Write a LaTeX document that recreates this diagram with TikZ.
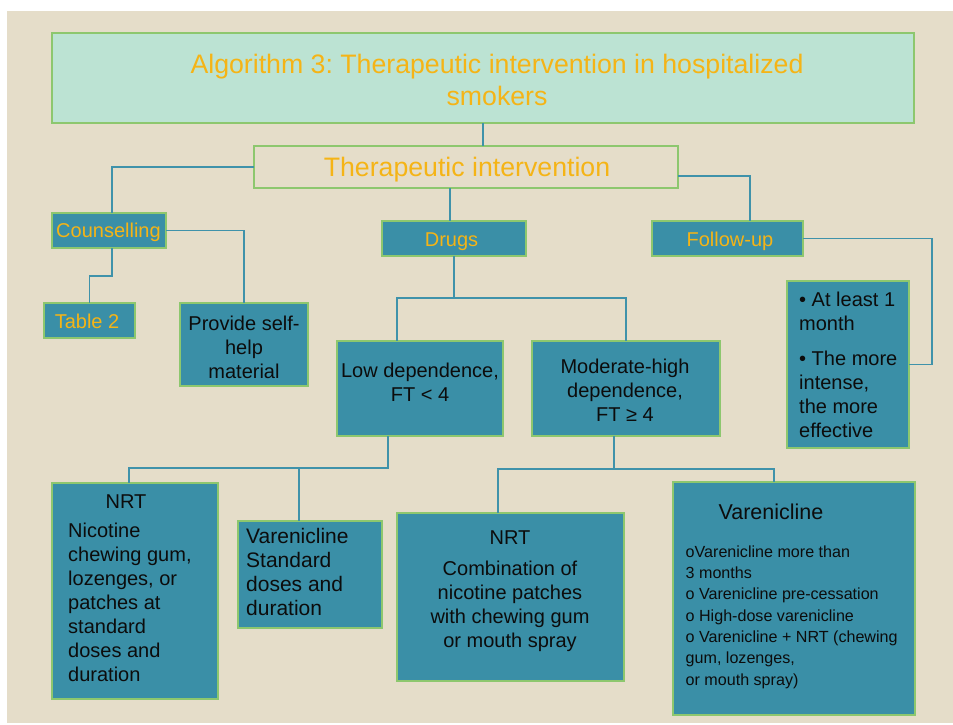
\documentclass[tikz,border=0pt]{standalone}
\usepackage{fontspec}
\setmainfont{Liberation Sans}
\definecolor{bgc}{HTML}{E5DDC9}
\definecolor{titlefill}{HTML}{BCE3D3}
\definecolor{edgec}{HTML}{8DC76E}
\definecolor{tealc}{HTML}{3A8FA7}
\definecolor{linec}{HTML}{3F92AA}
\definecolor{orangec}{RGB}{245,180,22}
\definecolor{inkc}{HTML}{0C0C0C}
\tikzset{
  box/.style={draw=edgec, line width=1.2pt, fill=tealc, inner sep=0pt, outer sep=0pt},
  conn/.style={draw=linec, line width=1.4pt},
  otxt/.style={text=orangec, inner sep=0pt, font=\fontsize{20}{24}\selectfont},
  btxt/.style={text=inkc, inner sep=0pt, font=\fontsize{20}{24}\selectfont},
  vtxt/.style={text=inkc, inner sep=0pt, font=\fontsize{21}{24}\selectfont},
  bigtxt/.style={text=orangec, inner sep=0pt, font=\fontsize{26.7}{32}\selectfont},
}
\begin{document}
\frenchspacing
\begin{tikzpicture}[x=1pt,y=-1pt]
\useasboundingbox (0,0) rectangle (953,725);
\fill[white] (0,0) rectangle (953,725);
\fill[bgc] (7,11) rectangle (953,723);

% boxes
\node[box, fill=titlefill, minimum width=862pt, minimum height=90pt] (title) at (483,78) {};
\node[box, fill=bgc, minimum width=424pt, minimum height=42pt] (ther) at (466,167) {};
\node[box, minimum width=114pt, minimum height=35pt] (couns) at (109,230.5) {};
\node[box, minimum width=91pt, minimum height=35pt] (table2) at (89.5,320.5) {};
\node[box, minimum width=128pt, minimum height=83pt] (provide) at (244,344.5) {};
\node[box, minimum width=144pt, minimum height=35pt] (drugs) at (454,238.5) {};
\node[box, minimum width=151pt, minimum height=35pt] (follow) at (727.5,238.5) {};
\node[box, minimum width=122pt, minimum height=167pt] (bullets) at (848,364.5) {};
\node[box, minimum width=166pt, minimum height=95pt] (low) at (420,388.5) {};
\node[box, minimum width=188pt, minimum height=95pt] (mod) at (626,388.5) {};
\node[box, minimum width=166pt, minimum height=216pt] (nrt1) at (135,591) {};
\node[box, minimum width=144pt, minimum height=107pt] (var1) at (310,574.5) {};
\node[box, minimum width=227pt, minimum height=168pt] (nrt2) at (510.5,597) {};
\node[box, minimum width=242pt, minimum height=233pt] (var2) at (794,598.5) {};

% connectors
\draw[conn] (title.south) -- (title.south |- ther.north);
\draw[conn] (ther.west) -| ([xshift=3pt]couns.north);
\draw[conn] ([xshift=-4pt]drugs.north |- ther.south) -- ([xshift=-4pt]drugs.north);
\draw[conn] ([yshift=-9pt]ther.east) -| ([xshift=22.5pt]follow.north);
\draw[conn] ([xshift=3pt]couns.south) -- ++(0,28) -| (table2.north);
\draw[conn] (couns.east) -| (provide.north);
\draw[conn] (follow.east) -- ++(129,0) |- (bullets.east);
\draw[conn] (drugs.south) -- ++(0,42) -| ([xshift=-23pt]low.north);
\draw[conn] (drugs.south) ++(0,42) -| (mod.north);
\draw[conn] ([xshift=-32pt]low.south) -- ++(0,32) -| ([xshift=-6pt]nrt1.north);
\draw[conn] ([xshift=-32pt]low.south) ++(0,32) -| ([xshift=-11pt]var1.north);
\draw[conn] ([xshift=-12pt]mod.south) -- ++(0,33) -| ([xshift=-12.5pt]nrt2.north);
\draw[conn] ([xshift=-12pt]mod.south) ++(0,33) -| ([xshift=-20pt]var2.north);

% texts
\node[bigtxt, anchor=base] (titleA) at (497,74) {Algorithm 3: Therapeutic intervention in hospitalized};
\node[bigtxt, anchor=base] (titleB) at (497,106) {smokers};
\node[bigtxt, anchor=base] (therT) at (467,176) {Therapeutic intervention};
\node[otxt, anchor=base] (counsT) at (108.5,237) {Counselling};
\node[otxt, anchor=base] (table2T) at (87,328) {Table 2};
\node[otxt, anchor=base] (drugsT) at (451.5,246) {Drugs};
\node[otxt, anchor=base] (followT) at (730,246) {Follow-up};
\node[btxt, align=center, anchor=north] (provideT) at (244,313.2) {\strut Provide self-\\help\\material};
\node[btxt, align=left, anchor=north west] (bulletsT) at (799,289.2) {\strut • At least 1\\month\\[11pt]• The more\\intense,\\the more\\effective};
\node[btxt, align=center, anchor=north] (lowT) at (420,360.2) {\strut Low dependence,\\FT < 4};
\node[btxt, align=center, anchor=north] (modT) at (625,356.2) {\strut Moderate-high\\dependence,\\FT ≥ 4};
\node[btxt, anchor=base] (nrt1H) at (126,508) {NRT};
\node[btxt, align=left, anchor=north west] (nrt1T) at (68,520.2) {\strut Nicotine\\chewing gum,\\lozenges, or\\patches at\\standard\\doses and\\duration};
\node[vtxt, align=left, anchor=north west] (var1T) at (246,526.2) {\strut Varenicline\\Standard\\doses and\\duration};
\node[btxt, anchor=base] (nrt2H) at (510,544) {NRT};
\node[btxt, align=center, anchor=north] (nrt2T) at (510,558.2) {\strut Combination of\\nicotine patches\\with chewing gum\\or mouth spray};
\node[vtxt, font=\fontsize{21.5}{24}\selectfont, anchor=base] (var2H) at (771,519) {Varenicline};
\node[text=inkc, inner sep=0pt, font=\fontsize{16.1}{21.3}\selectfont, align=left, anchor=north west] (var2T) at (685.5,542.1) {\strut oVarenicline more than\\3 months\\o Varenicline pre-cessation\\o High-dose varenicline\\o Varenicline + NRT (chewing\\gum, lozenges,\\or mouth spray)};
\end{tikzpicture}
\end{document}
